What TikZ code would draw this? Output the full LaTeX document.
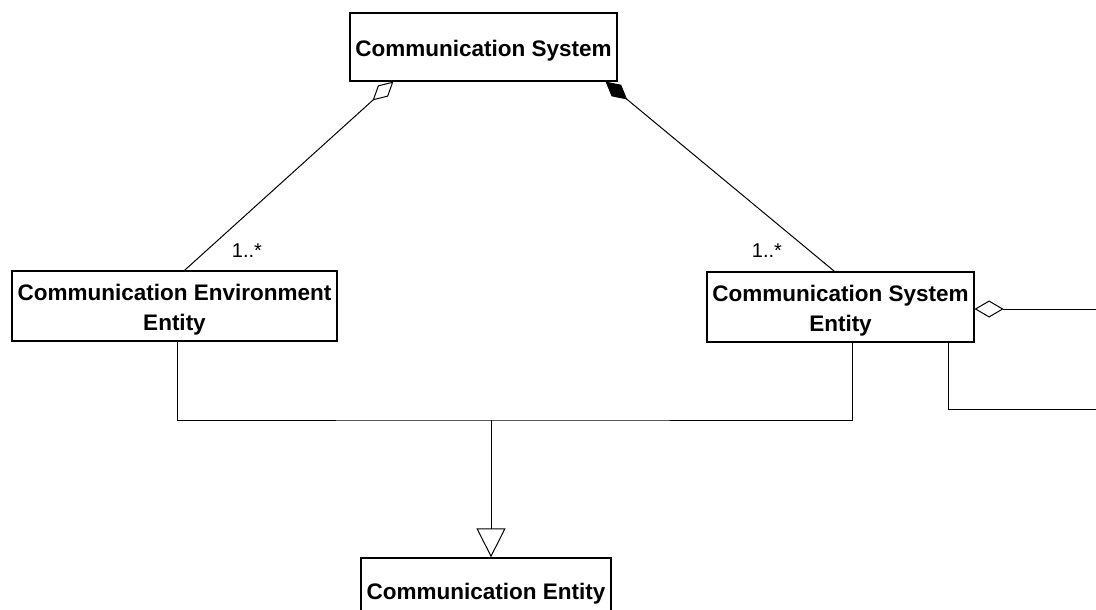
\documentclass[tikz,border=0pt]{standalone}
\usepackage{fontspec}
\setmainfont{Liberation Sans}
\usetikzlibrary{arrows.meta}

\begin{document}
\begin{tikzpicture}[x=1pt, y=-1pt,
        classbox/.style={draw, black, line width=1.2pt, align=center, inner sep=0pt,
            font=\fontsize{22.5}{30}\selectfont\bfseries, text depth=5pt},
        oneline/.style={classbox, text height=23.5pt},
        twoline/.style={classbox, text height=54pt},
        assoc/.style={black, line width=1pt},
        multlabel/.style={font=\fontsize{20}{24}\selectfont, inner sep=0pt}]
        \useasboundingbox (0,0) rectangle (1096,610);
        \clip (0,0) rectangle (1096,610);

        \node [oneline, minimum width=267pt, minimum height=68pt] (sys) at (483.5,47) {Communication System};
        \node [twoline, minimum width=325pt, minimum height=70pt] (envent) at (174.5,306) {Communication Environment\\Entity};
        \node [twoline, minimum width=267pt, minimum height=70pt] (sysent) at (840.5,307) {Communication System\\Entity};
        \node [oneline, minimum width=250pt, minimum height=64pt] (comment) at (486,590) {Communication Entity};

        % aggregation and composition
        \draw [assoc, -{Diamond[open, length=28pt, width=15pt]}] ([xshift=10pt]envent.north) -- ([xshift=44pt]sys.south west);
        \draw [assoc, -{Diamond[length=28pt, width=15pt]}] ([xshift=-6pt]sysent.north) -- ([xshift=-12pt]sys.south east);
        \node [multlabel] (multenv) at (247,251) {1..*};
        \node [multlabel] (multsys) at (767,251) {1..*};

        % self association, runs off the right edge
        \coordinate (selfa) at (1120,309);
        \coordinate (selfb) at (1120,409);
        \coordinate (selfc) at (948,409);
        \draw [assoc, {Diamond[open, length=29pt, width=17pt]}-] ([yshift=-2pt]sysent.east) -- (selfa) -- (selfb) -- (selfc) -- (selfc |- sysent.south);

        % generalization
        \coordinate (join) at (491,420);
        \draw [assoc] ([xshift=2.5pt]envent.south) |- (join) -| ([xshift=11.5pt]sysent.south);
        \draw [assoc, -{Triangle[open, length=29pt, width=29pt]}] (join) -- (join |- comment.north);
    \end{tikzpicture}
\end{document}
